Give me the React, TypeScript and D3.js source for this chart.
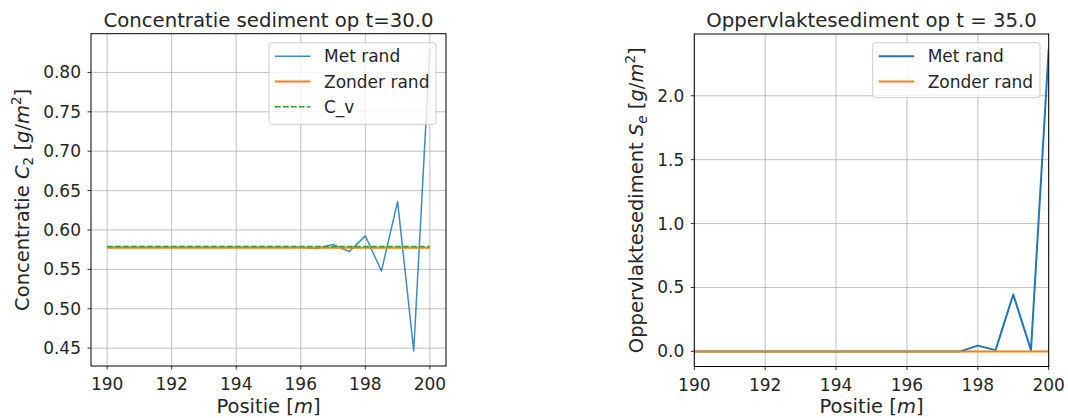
import React from 'react';
import * as d3 from 'd3';

const positions = [190, 190.5, 191, 191.5, 192, 192.5, 193, 193.5, 194, 194.5, 195, 195.5, 196, 196.5, 197, 197.5, 198, 198.5, 199, 199.5, 200];

const concMetRand = [0.578, 0.578, 0.578, 0.578, 0.578, 0.578, 0.578, 0.578, 0.578, 0.578, 0.578, 0.578, 0.578, 0.5765, 0.5815, 0.5725, 0.5925, 0.548, 0.636, 0.4465, 0.830];
const concZonderRand = [0.5775, 0.5775, 0.5775, 0.5775, 0.5775, 0.5775, 0.5775, 0.5775, 0.5775, 0.5775, 0.5775, 0.5775, 0.5775, 0.5775, 0.5775, 0.5775, 0.5775, 0.5775, 0.5775, 0.5775, 0.5775];
const concCv = [0.579, 0.579, 0.579, 0.579, 0.579, 0.579, 0.579, 0.579, 0.579, 0.579, 0.579, 0.579, 0.579, 0.579, 0.579, 0.579, 0.579, 0.579, 0.579, 0.579, 0.579];

const sedMetRand = [0, 0, 0, 0, 0, 0, 0, 0, 0, 0, 0, 0, 0, 0, 0, 0, 0.045, 0.01, 0.445, 0.01, 2.365];
const sedZonderRand = [0, 0, 0, 0, 0, 0, 0, 0, 0, 0, 0, 0, 0, 0, 0, 0, 0, 0, 0, 0, 0];

const xTicks = [190, 192, 194, 196, 198, 200];
const leftYTicks = [0.45, 0.5, 0.55, 0.6, 0.65, 0.7, 0.75, 0.8];
const rightYTicks = [0, 0.5, 1.0, 1.5, 2.0];

const BLUE = '#1f77b4';
const ORANGE = '#ff7f0e';
const GREEN = '#2ca02c';
const TEXT = '#262626';
const FONT = 'DejaVu Sans';

type Series = { name: string; values: number[]; color: string; width: number; dash?: string; opacity?: number };

function pad(lo: number, hi: number): [number, number] {
  const r = hi - lo;
  return [lo - 0.05 * r, hi + 0.05 * r];
}

function Panel(props: {
  id: string;
  left: number; right: number; top: number; bottom: number;
  xDomain: [number, number];
  series: Series[];
  yTicks: number[];
  yFmt: (v: number) => string;
  title: string;
  yLabel: React.ReactNode;
  yLabelX: number;
  legend: { x: number; y: number; w: number; h: number };
}) {
  const { left, right, top, bottom, series, yTicks } = props;
  const all = series.flatMap(s => s.values);
  const yDom = pad(d3.min(all)!, d3.max(all)!);
  const x = d3.scaleLinear().domain(props.xDomain).range([left, right]);
  const y = d3.scaleLinear().domain(yDom).range([bottom, top]);
  const line = (vals: number[]) => d3.line<number>().x((_, i) => x(positions[i])).y(d => y(d))(vals) || '';
  const cx = (left + right) / 2;
  const cy = (top + bottom) / 2;
  const lg = props.legend;
  return (
    <g>
      <defs>
        <clipPath id={props.id}>
          <rect x={left} y={top} width={right - left} height={bottom - top} />
        </clipPath>
      </defs>
      {xTicks.map(t => (
        <line key={'gx' + t} x1={x(t)} x2={x(t)} y1={top} y2={bottom} stroke="#b0b0b0" strokeWidth={0.8} />
      ))}
      {yTicks.map(t => (
        <line key={'gy' + t} x1={left} x2={right} y1={y(t)} y2={y(t)} stroke="#b0b0b0" strokeWidth={0.8} />
      ))}
      <g clipPath={`url(#${props.id})`}>
        {series.map(s => (
          <path key={s.name} d={line(s.values)} fill="none" stroke={s.color} strokeWidth={s.width}
            strokeDasharray={s.dash} strokeOpacity={s.opacity ?? 1} strokeLinejoin="round" />
        ))}
      </g>
      <rect x={left} y={top} width={right - left} height={bottom - top} fill="none" stroke="#000" strokeWidth={1} />
      {xTicks.map(t => (
        <g key={'tx' + t}>
          <line x1={x(t)} x2={x(t)} y1={bottom} y2={bottom + 3.5} stroke="#000" strokeWidth={0.8} />
          <text x={x(t)} y={bottom + 24} textAnchor="middle" fontSize={17} fill={TEXT} fontFamily={FONT}>{t}</text>
        </g>
      ))}
      {yTicks.map(t => (
        <g key={'ty' + t}>
          <line x1={left - 3.5} x2={left} y1={y(t)} y2={y(t)} stroke="#000" strokeWidth={0.8} />
          <text x={left - 10} y={y(t) + 6} textAnchor="end" fontSize={17} fill={TEXT} fontFamily={FONT}>{props.yFmt(t)}</text>
        </g>
      ))}
      <text x={cx} y={26.5} textAnchor="middle" fontSize={19.7} fill={TEXT} fontFamily={FONT}>{props.title}</text>
      <text x={cx} y={413} textAnchor="middle" fontSize={19.5} fill={TEXT} fontFamily={FONT}>
        Positie [<tspan fontStyle="italic">m</tspan>]
      </text>
      <text transform={`translate(${props.yLabelX},${cy}) rotate(-90)`} textAnchor="middle" fontSize={19.5} fill={TEXT} fontFamily={FONT}>
        {props.yLabel}
      </text>
      <rect x={lg.x} y={lg.y} width={lg.w} height={lg.h} rx={3} fill="#fff" fillOpacity={0.8} stroke="#cccccc" strokeWidth={1} />
      {series.map((s, i) => {
        const ly = lg.y + 13.5 + i * 25.3;
        return (
          <g key={'lg' + s.name}>
            <line x1={lg.x + 6} x2={lg.x + 41.5} y1={ly} y2={ly} stroke={s.color} strokeWidth={s.width}
              strokeDasharray={s.dash} strokeOpacity={s.opacity ?? 1} />
            <text x={lg.x + 55} y={ly + 6} fontSize={17} fill={TEXT} fontFamily={FONT}>{s.name}</text>
          </g>
        );
      })}
    </g>
  );
}

export default function App() {
  const leftSeries: Series[] = [
    { name: 'Met rand', values: concMetRand, color: BLUE, width: 1.5, opacity: 0.85 },
    { name: 'Zonder rand', values: concZonderRand, color: ORANGE, width: 2 },
    { name: 'C_v', values: concCv, color: GREEN, width: 1.5, dash: '5.5,2.5' },
  ];
  const rightSeries: Series[] = [
    { name: 'Met rand', values: sedMetRand, color: BLUE, width: 2 },
    { name: 'Zonder rand', values: sedZonderRand, color: ORANGE, width: 2 },
  ];
  return (
    <svg width={1068} height={418} style={{ position: 'absolute', left: 0, top: 0, background: '#fff' }}>
      <rect width={1068} height={418} fill="#fff" />
      <Panel
        id="clipL"
        left={91} right={446} top={33.7} bottom={366}
        xDomain={[189.5, 200.5]}
        series={leftSeries}
        yTicks={leftYTicks}
        yFmt={v => v.toFixed(2)}
        title="Concentratie sediment op t=30.0"
        yLabelX={28.5}
        yLabel={<>Concentratie <tspan fontStyle="italic">C</tspan><tspan fontSize={13.5} dy={4}>2</tspan><tspan dy={-4}> [</tspan><tspan fontStyle="italic">g</tspan>/<tspan fontStyle="italic">m</tspan><tspan fontSize={13.5} dy={-8}>2</tspan><tspan dy={8}>]</tspan></>}
        legend={{ x: 269, y: 42.7, w: 167, h: 81.6 }}
      />
      <Panel
        id="clipR"
        left={694.3} right={1048.7} top={34} bottom={366.5}
        xDomain={[190, 200]}
        series={rightSeries}
        yTicks={rightYTicks}
        yFmt={v => v.toFixed(1)}
        title="Oppervlaktesediment op t = 35.0"
        yLabelX={643}
        yLabel={<>Oppervlaktesediment <tspan fontStyle="italic">S</tspan><tspan fontSize={13.5} fontStyle="italic" dy={4}>e</tspan><tspan dy={-4}> [</tspan><tspan fontStyle="italic">g</tspan>/<tspan fontStyle="italic">m</tspan><tspan fontSize={13.5} dy={-8}>2</tspan><tspan dy={8}>]</tspan></>}
        legend={{ x: 872.7, y: 42.7, w: 167.3, h: 55 }}
      />
    </svg>
  );
}
